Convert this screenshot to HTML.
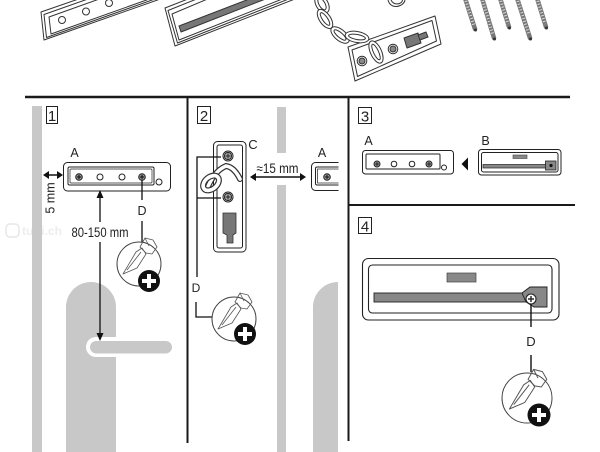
<!DOCTYPE html>
<html><head><meta charset="utf-8"><style>
html,body{margin:0;padding:0;background:#fff;}
svg{display:block;}
text{font-family:"Liberation Sans",sans-serif;fill:#222;}
</style></head><body>
<svg width="600" height="452" viewBox="0 0 600 452" xmlns="http://www.w3.org/2000/svg">
<defs>
<clipPath id="clipA2"><rect x="300" y="150" width="38.5" height="50"/></clipPath>
</defs>
<rect width="600" height="452" fill="#fff"/>

<!-- ===== TOP PARTS ===== -->
<g fill="#fff" stroke="#333" stroke-width="1" stroke-linejoin="round">
  <!-- plate A top -->
  <polygon points="41,12 44,40 200,-15 200,-43"/>
  <polygon points="44,14.5 46.5,37.5 200,-17 200,-40.5" fill="none"/>
  <polygon points="49,17 51,34 200,-19 200,-37" fill="none"/>
  <circle cx="62" cy="20" r="3.5"/>
  <circle cx="86" cy="11.5" r="3.5"/>
  <circle cx="109" cy="3" r="3.5"/>
  <!-- plate B top -->
  <polygon points="165,8 175,46 300,-3 300,-45"/>
  <polygon points="168,10.5 177.5,43 300,-5.5 300,-42.5" fill="none"/>
  <polygon points="172,14 179,40 300,-8 300,-40" fill="none"/>
  <polygon points="179,26 181,32 272,-3.5 270,-9" fill="#777"/>
  <!-- chain plate -->
  <polygon points="348,47 435,16 441,44 355,81"/>
  <polygon points="352,50 432,20.5 436.5,41 357.5,76.5" fill="none"/>
  <circle cx="362" cy="61" r="4.8"/>
  <circle cx="362" cy="61" r="3" fill="#888"/>
  <circle cx="393" cy="49" r="4.8"/>
  <circle cx="393" cy="49" r="3" fill="#888"/>
  <polygon points="404,38 418,33 421,43 407,48" fill="#777"/>
  <polygon points="418,35 426,32 428,37 420,40" fill="#777"/>
  <!-- chain links -->
  <g stroke-width="1">
    <ellipse cx="322" cy="4" rx="6" ry="10" transform="rotate(-30 322 4)"/>
    <ellipse cx="322" cy="4" rx="3" ry="6.5" transform="rotate(-30 322 4)"/>
    <ellipse cx="325" cy="19" rx="5.5" ry="11" transform="rotate(-35 325 19)"/>
    <ellipse cx="325" cy="19" rx="2.5" ry="7.5" transform="rotate(-35 325 19)"/>
    <ellipse cx="340" cy="35" rx="5.5" ry="11" transform="rotate(-50 340 35)"/>
    <ellipse cx="340" cy="35" rx="2.5" ry="7.5" transform="rotate(-50 340 35)"/>
    <ellipse cx="357" cy="37" rx="12" ry="5.5" transform="rotate(10 357 37)"/>
    <ellipse cx="357" cy="37" rx="8.5" ry="2.5" transform="rotate(10 357 37)"/>
    <ellipse cx="376" cy="52" rx="5.5" ry="12" transform="rotate(-25 376 52)"/>
    <ellipse cx="376" cy="52" rx="2.5" ry="8.5" transform="rotate(-25 376 52)"/>
  </g>
  <path d="M388,0 Q390,7 397,6.5 Q404,5 405,0" fill="#fff"/>
  <path d="M391,0 Q393,4 397,4 Q402,3.5 402.5,0" fill="none"/>
</g>
<!-- screws -->
<g stroke-linecap="round">
  <g stroke="#777" stroke-width="4.5">
    <line x1="465" y1="-2" x2="475" y2="29"/>
    <line x1="482" y1="-2" x2="494" y2="38"/>
    <line x1="500" y1="-2" x2="509" y2="27"/>
    <line x1="517" y1="-2" x2="530" y2="38"/>
    <line x1="537" y1="-2" x2="546" y2="27"/>
  </g>
  <g stroke="#d8d8d8" stroke-width="3" stroke-dasharray="1 2" stroke-linecap="butt">
    <line x1="465" y1="-2" x2="474" y2="26"/>
    <line x1="482" y1="-2" x2="493" y2="35"/>
    <line x1="500" y1="-2" x2="508" y2="24"/>
    <line x1="517" y1="-2" x2="529" y2="35"/>
    <line x1="537" y1="-2" x2="545" y2="24"/>
  </g>
  <g fill="#333">
    <circle cx="475.5" cy="30" r="1.5"/>
    <circle cx="494.5" cy="39" r="1.5"/>
    <circle cx="509.5" cy="28" r="1.5"/>
    <circle cx="530.5" cy="39" r="1.5"/>
    <circle cx="546.5" cy="28" r="1.5"/>
  </g>
</g>

<!-- ===== FRAME LINES ===== -->
<g stroke="#1a1a1a" fill="none">
  <line x1="25" y1="97" x2="570" y2="97" stroke-width="2.4"/>
  <line x1="187.5" y1="97" x2="187.5" y2="443" stroke-width="2"/>
  <line x1="348.5" y1="97" x2="348.5" y2="441" stroke-width="2"/>
  <line x1="349" y1="205" x2="575" y2="205" stroke-width="2"/>
</g>

<!-- watermark -->
<g opacity="0.35">
  <rect x="6" y="224" width="13" height="13" rx="4" fill="none" stroke="#bbb" stroke-width="1.5"/>
  <text x="22" y="235" font-size="12" font-weight="bold" style="fill:#ccc">tutti.ch</text>
</g>

<!-- ===== PANEL 1 ===== -->
<rect x="32" y="106" width="10" height="346" fill="#c8c8c8"/>
<path d="M66,452 L66,307 A25,25 0 0 1 116,307 L116,452 Z" fill="#c8c8c8"/>
<rect x="86" y="337" width="90" height="20" rx="10" fill="#fff"/>
<rect x="90" y="341" width="82" height="12.5" rx="6.2" fill="#c8c8c8"/>

<rect x="46.5" y="106.5" width="11" height="17" fill="none" stroke="#222" stroke-width="1"/>
<text x="52" y="121" font-size="15" text-anchor="middle">1</text>
<text x="74.5" y="157" font-size="12.5" text-anchor="middle">A</text>

<g stroke="#222" fill="#fff" stroke-width="1">
  <rect x="63.5" y="162.5" width="107" height="28.5" rx="4"/>
  <rect x="68" y="167" width="86" height="18" rx="1.5" fill="none"/>
  <rect x="70" y="169" width="82" height="14" rx="1" fill="none" stroke-width="0.7"/>
  <circle cx="100" cy="177" r="3"/>
  <circle cx="122" cy="177" r="3"/>
  <circle cx="159" cy="182" r="3"/>
  <circle cx="79" cy="177" r="3.3" fill="#999"/>
  <circle cx="142" cy="177" r="3.3" fill="#999"/>
</g>
<g stroke="#111" stroke-width="1.1">
  <line x1="76.8" y1="177" x2="81.2" y2="177"/><line x1="79" y1="174.8" x2="79" y2="179.2"/>
  <line x1="139.8" y1="177" x2="144.2" y2="177"/><line x1="142" y1="174.8" x2="142" y2="179.2"/>
</g>

<!-- 5 mm -->
<g fill="#111" stroke="#111">
  <line x1="46" y1="175" x2="60" y2="175" stroke-width="1.5"/>
  <polygon points="43,175 49,171 49,179" stroke="none"/>
  <polygon points="63,175 57,171 57,179" stroke="none"/>
</g>
<text x="0" y="0" font-size="12.5" text-anchor="middle" transform="translate(54.5,198) rotate(-90)">5 mm</text>

<!-- 80-150 mm -->
<g stroke="#111" stroke-width="1.3" fill="#111">
  <line x1="100" y1="196" x2="100" y2="222"/>
  <line x1="100" y1="242" x2="100" y2="334"/>
  <polygon points="100,190 96.5,198 103.5,198" stroke="none"/>
  <polygon points="100,341 96.5,333 103.5,333" stroke="none"/>
</g>
<text x="100" y="237" font-size="13.5" text-anchor="middle" textLength="57" lengthAdjust="spacingAndGlyphs">80-150 mm</text>

<!-- D panel 1 -->
<g stroke="#111" stroke-width="1.3">
  <line x1="142" y1="180" x2="142" y2="200"/>
  <line x1="142" y1="221" x2="142" y2="242"/>
</g>
<text x="142" y="215" font-size="12.5" text-anchor="middle">D</text>
<g transform="translate(139,264)">
  <circle r="22" fill="#fff" stroke="#444" stroke-width="1"/>
  <g fill="none" stroke="#555" stroke-width="0.8" stroke-linejoin="round">
    <polygon points="-16,10 -3,-12 3,-16 7,-10 -2,4"/>
    <polyline points="-12,6 2,-12"/>
    <polygon points="1,-17 6,-26 14,-24 18,-17 13,-10 7,-11"/>
    <line x1="6" y1="-26" x2="10" y2="-18"/>
  </g>
  <circle cx="10" cy="17" r="11" fill="#111"/>
  <rect x="8" y="10" width="4" height="14" fill="#fff"/>
  <rect x="3" y="15" width="14" height="4" fill="#fff"/>
</g>

<!-- ===== PANEL 2 ===== -->
<rect x="277" y="107" width="9" height="46" fill="#c8c8c8"/>
<rect x="277" y="185" width="9" height="267" fill="#c8c8c8"/>
<path d="M313,452 L313,307 A25,25 0 0 1 338,282 L338,452 Z" fill="#c8c8c8"/>

<rect x="197.5" y="106.5" width="13" height="17" fill="none" stroke="#222" stroke-width="1"/>
<text x="204" y="121" font-size="15" text-anchor="middle">2</text>
<text x="253" y="149" font-size="13" text-anchor="middle">C</text>

<g stroke="#222" fill="#fff" stroke-width="1">
  <rect x="213.5" y="141.5" width="32.5" height="110.5" rx="4"/>
  <rect x="217" y="145" width="25.5" height="103" rx="2" fill="none"/>
</g>
<!-- chain loop -->
<g fill="none" stroke-linecap="round">
  <path d="M207,189 Q214,171 226,166 Q234,167 240,179" stroke="#333" stroke-width="6"/>
  <path d="M207,189 Q214,171 226,166 Q234,167 240,179" stroke="#fff" stroke-width="3.6"/>
  <ellipse cx="211" cy="183" rx="9" ry="6" transform="rotate(-40 211 183)" stroke="#333" stroke-width="6"/>
  <ellipse cx="211" cy="183" rx="9" ry="6" transform="rotate(-40 211 183)" stroke="#fff" stroke-width="3.6"/>
</g>
<g stroke="#222" stroke-width="1">
  <circle cx="228" cy="156" r="5" fill="#fff"/>
  <circle cx="228" cy="156" r="3.6" fill="#aaa"/>
  <circle cx="228" cy="197" r="5" fill="#fff"/>
  <circle cx="228" cy="197" r="3.6" fill="#aaa"/>
  <line x1="225.5" y1="156" x2="230.5" y2="156"/><line x1="228" y1="153.5" x2="228" y2="158.5"/>
  <line x1="225.5" y1="197" x2="230.5" y2="197"/><line x1="228" y1="194.5" x2="228" y2="199.5"/>
</g>
<path d="M223,213 L236,213 L236,233 L233,235 L233,243 L227,243 L227,235 L223,233 Z" fill="#777" stroke="#333" stroke-width="0.8"/>

<g stroke="#111" stroke-width="1.3" fill="none">
  <polyline points="221,157 197,157 197,277"/>
  <line x1="197" y1="198" x2="221" y2="198"/>
  <polyline points="196,302 196,317 213,317"/>
</g>
<text x="196" y="292" font-size="12" text-anchor="middle">D</text>
<g transform="translate(234,319)">
  <circle r="22" fill="#fff" stroke="#444" stroke-width="1"/>
  <g fill="none" stroke="#555" stroke-width="0.8" stroke-linejoin="round">
    <polygon points="-16,10 -3,-12 3,-16 7,-10 -2,4"/>
    <polyline points="-12,6 2,-12"/>
    <polygon points="1,-17 6,-26 14,-24 18,-17 13,-10 7,-11"/>
    <line x1="6" y1="-26" x2="10" y2="-18"/>
  </g>
  <circle cx="11" cy="15" r="11" fill="#111"/>
  <rect x="9" y="8" width="4" height="14" fill="#fff"/>
  <rect x="4" y="13" width="14" height="4" fill="#fff"/>
</g>

<!-- 15 mm -->
<g fill="#111" stroke="#111">
  <line x1="254" y1="177" x2="302" y2="177" stroke-width="1.5"/>
  <polygon points="250,177 256,173 256,181" stroke="none"/>
  <polygon points="306,177 300,173 300,181" stroke="none"/>
</g>
<text x="277.5" y="173" font-size="13.5" text-anchor="middle" textLength="42" lengthAdjust="spacingAndGlyphs">≈15 mm</text>

<text x="322" y="157" font-size="12.5" text-anchor="middle">A</text>
<g clip-path="url(#clipA2)" stroke="#222" fill="#fff" stroke-width="1">
  <rect x="311.5" y="162.5" width="60" height="28" rx="4"/>
  <rect x="315.5" y="167" width="60" height="18" rx="1.5" fill="none"/>
  <rect x="317.5" y="169" width="60" height="14" fill="none" stroke-width="0.7"/>
  <circle cx="327" cy="177" r="3.3" fill="#999"/>
  <line x1="324.8" y1="177" x2="329.2" y2="177" stroke="#111"/>
  <line x1="327" y1="174.8" x2="327" y2="179.2" stroke="#111"/>
</g>

<!-- ===== PANEL 3 ===== -->
<rect x="358.5" y="107.5" width="13" height="16" fill="none" stroke="#222" stroke-width="1"/>
<text x="365" y="121.5" font-size="15" text-anchor="middle">3</text>
<text x="368.5" y="145" font-size="12.5" text-anchor="middle">A</text>
<text x="485.5" y="145" font-size="12.5" text-anchor="middle">B</text>

<g stroke="#222" fill="#fff" stroke-width="1">
  <rect x="362.5" y="150.5" width="91" height="23.5" rx="3"/>
  <rect x="366" y="154" width="74" height="15" rx="1" fill="none"/>
  <circle cx="394" cy="164" r="2.8"/>
  <circle cx="412" cy="164" r="2.8"/>
  <circle cx="444" cy="167.5" r="2.5"/>
  <circle cx="377" cy="164" r="3" fill="#999"/>
  <circle cx="429" cy="164" r="3" fill="#999"/>
  <line x1="375" y1="164" x2="379" y2="164"/><line x1="377" y1="162" x2="377" y2="166"/>
  <line x1="427" y1="164" x2="431" y2="164"/><line x1="429" y1="162" x2="429" y2="166"/>
</g>
<polygon points="461.5,164 468,157.5 468,170.5" fill="#111"/>
<g stroke="#222" fill="#fff" stroke-width="1">
  <rect x="478.5" y="149.5" width="82.5" height="25.5" rx="3"/>
  <rect x="481.5" y="152.5" width="76.5" height="19.5" rx="2" fill="none"/>
  <rect x="513" y="155" width="14" height="3.5" fill="#888" stroke="#444" stroke-width="0.6"/>
  <rect x="483" y="164.5" width="64" height="3.5" fill="#888" stroke-width="0.7"/>
  <rect x="545.5" y="161" width="10.5" height="9" fill="#888" stroke-width="0.8"/>
</g>
<circle cx="551" cy="165.5" r="1.6" fill="#111"/>

<!-- ===== PANEL 4 ===== -->
<rect x="358.5" y="217.5" width="13" height="16" fill="none" stroke="#222" stroke-width="1"/>
<text x="365" y="231.5" font-size="15" text-anchor="middle">4</text>

<g stroke="#222" fill="#fff" stroke-width="1.1">
  <rect x="362.5" y="258.5" width="196.5" height="61.5" rx="6"/>
  <rect x="368.5" y="265" width="183.5" height="48" rx="4" fill="none"/>
  <rect x="447" y="273" width="29" height="9" fill="#888" stroke="#444" stroke-width="0.7"/>
  <rect x="374" y="293" width="152" height="9" fill="#888" stroke-width="0.9"/>
  <polygon points="522,293 530,287 547,287 547,307 534,307 526,302" fill="#888" stroke-width="0.9"/>
  <circle cx="531" cy="299" r="5" fill="#fff" stroke-width="1.1"/>
  <line x1="528" y1="299" x2="534" y2="299" stroke-width="1.4"/>
  <line x1="531" y1="296" x2="531" y2="302" stroke-width="1.4"/>
</g>
<g stroke="#111" stroke-width="1.4">
  <line x1="531" y1="304" x2="531" y2="327"/>
  <line x1="531" y1="355" x2="531" y2="372"/>
</g>
<text x="531" y="346" font-size="13" text-anchor="middle">D</text>
<g transform="translate(527,398)">
  <circle r="25" fill="#fff" stroke="#444" stroke-width="1"/>
  <g fill="none" stroke="#555" stroke-width="0.9" stroke-linejoin="round" transform="scale(1.1)">
    <polygon points="-16,10 -3,-12 3,-16 7,-10 -2,4"/>
    <polyline points="-12,6 2,-12"/>
    <polygon points="1,-17 6,-26 14,-24 18,-17 13,-10 7,-11"/>
    <line x1="6" y1="-26" x2="10" y2="-18"/>
  </g>
  <circle cx="12" cy="17" r="11.5" fill="#111"/>
  <rect x="10" y="10" width="4" height="14" fill="#fff"/>
  <rect x="5" y="15" width="14" height="4" fill="#fff"/>
</g>
</svg>
</body></html>
